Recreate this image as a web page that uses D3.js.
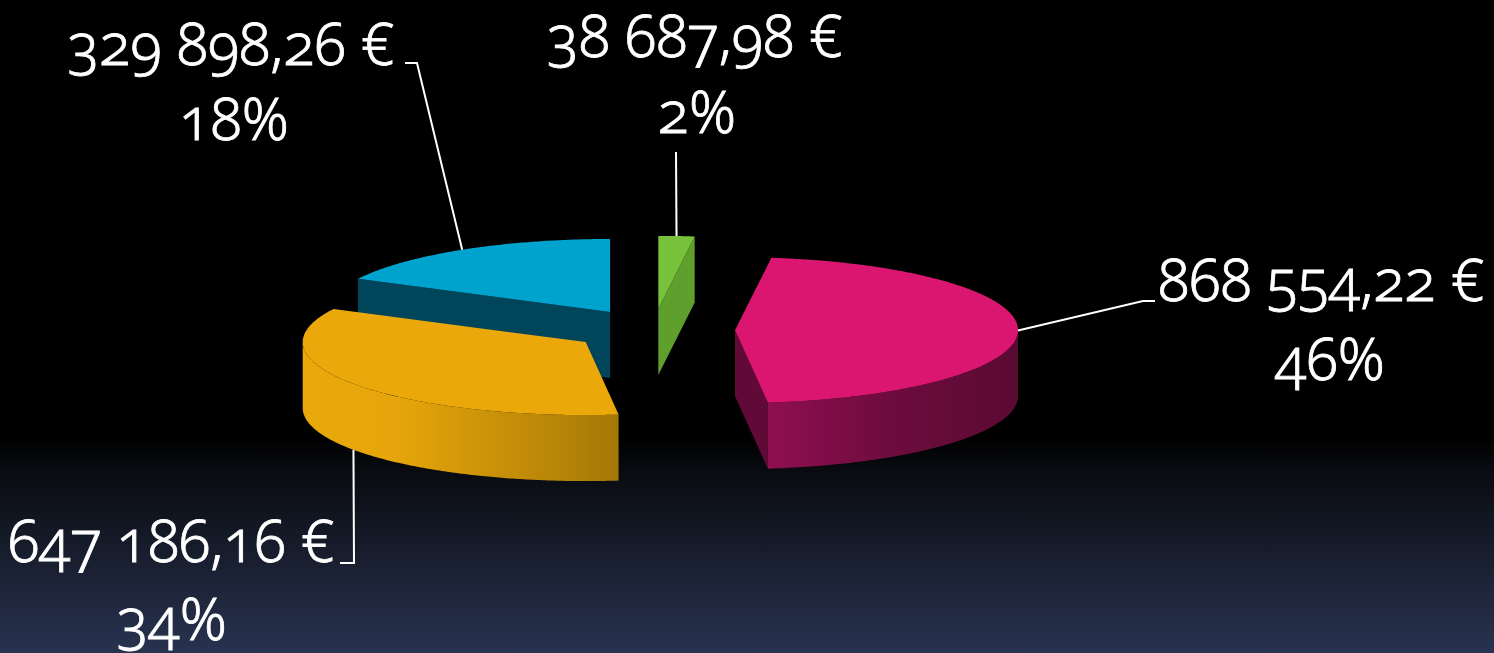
<!DOCTYPE html>
<html>
<head>
<meta charset="utf-8">
<script src="https://cdn.jsdelivr.net/npm/d3@7"></script>
<style>
    html, body { margin: 0; padding: 0; background: #000; }
    svg { display: block; }
    .lbl { font-family: 'Noto Sans', 'Open Sans', sans-serif; font-weight: 300; font-variant-numeric: oldstyle-nums; fill: #fff; stroke: #fff; stroke-width: 0.8px; }
</style>
</head>
<body>
<div id="chart_parent"></div>
<script>
// slice order is clockwise from 12 o'clock
const sliceKeys = ['green', 'pink', 'orange', 'blue'];
const sliceValues = [38687.98, 868554.22, 647186.16, 329898.26];

const chartConfig = {
    outerWidth: 1494,
    outerHeight: 653,
    cx: 653,
    cy: 330,
    rx: 283,
    ry: 73,
    depth: 66,
    explode: 82,
    fontSize: 58,
};

// colours: top face, radial wall, outer wall gradient stops
const sliceStyles = {
    green: { top: '#77c23a', wall: '#5f9f2e', side: [[0, '#5f9f2e'], [1, '#4c8224']] },
    pink: { top: '#da1670', wall: '#610a38', side: [[0, '#8f0f50'], [0.5, '#6c0c3d'], [1, '#5a0a32']] },
    orange: { top: '#eaa80b', wall: '#b78506', side: [[0, '#e9a90b'], [0.3, '#e6a50a'], [1, '#a57806']] },
    blue: { top: '#00a2ce', wall: '#00455a', side: [[0, '#00455a'], [1, '#003a4c']] },
};

// leader lines and label spots (layout only)
const labelLayout = {
    green: { bottom: false, path: [[676, 152]], text: [[695, 57], [697, 133]] },
    pink: { bottom: false, path: [[1143, 301], [1155, 301]], text: [[1321, 301], [1330, 380]] },
    orange: { bottom: true, path: [[354, 563], [340, 563]], text: [[171, 562], [172, 640]] },
    blue: { bottom: false, path: [[417, 63], [405, 63]], text: [[231, 65], [234, 140]] },
};

const frLocale = d3.formatLocale({ decimal: ',', thousands: '\u00a0', grouping: [3], currency: ['', '\u00a0€'] });
const fmtMoney = frLocale.format('$,.2f');

function initialiseChartElements(rootSelector, config) {
    const svg = d3.select(rootSelector).append('svg')
        .attr('width', config.outerWidth)
        .attr('height', config.outerHeight);

    const defs = svg.append('defs');
    const bg = defs.append('linearGradient')
        .attr('id', 'bg-grad')
        .attr('x1', 0).attr('y1', 0).attr('x2', 0).attr('y2', 1);
    bg.append('stop').attr('offset', 0).attr('stop-color', '#000');
    bg.append('stop').attr('offset', 0.67).attr('stop-color', '#000');
    bg.append('stop').attr('offset', 0.72).attr('stop-color', '#090b10');
    bg.append('stop').attr('offset', 1).attr('stop-color', '#283350');

    svg.append('rect')
        .attr('width', config.outerWidth)
        .attr('height', config.outerHeight)
        .attr('fill', 'url(#bg-grad)');

    return {
        svg,
        defs,
        pieGroup: svg.append('g').attr('class', 'pie-group'),
        labelGroup: svg.append('g').attr('class', 'label-group'),
    };
}

function updateChart(config, elements) {
    const { defs, pieGroup, labelGroup } = elements;
    const total = d3.sum(sliceValues);

    const arcs = d3.pie().sort(null).value(d => d)(sliceValues)
        .map((a, i) => {
            const mid = (a.startAngle + a.endAngle) / 2;
            return {
                ...a,
                key: sliceKeys[i],
                mid,
                cx: config.cx + config.explode * Math.sin(mid),
                cy: config.cy - config.explode * (config.ry / config.rx) * Math.cos(mid),
            };
        });

    const pt = (s, a, dy = 0) => [s.cx + config.rx * Math.sin(a), s.cy - config.ry * Math.cos(a) + dy];
    const rimLine = d3.line();
    const rim = (s, a0, a1, dy = 0) => {
        const n = Math.max(2, Math.ceil((a1 - a0) / 0.01));
        return d3.range(n + 1).map(k => pt(s, a0 + (a1 - a0) * k / n, dy));
    };

    // far slices first
    const drawOrder = arcs.slice().sort((a, b) => a.cy - b.cy);

    drawOrder.forEach(s => {
        const st = sliceStyles[s.key];
        const g = pieGroup.append('g').attr('class', `slice slice-${s.key}`);
        const h = config.depth;

        // radial walls facing the viewer
        [[s.startAngle, s.startAngle - Math.PI / 2], [s.endAngle, s.endAngle + Math.PI / 2]].forEach(([a, n]) => {
            if (Math.cos(n) < -1e-6) {
                const o = pt(s, a);
                g.append('path')
                    .attr('d', rimLine([[s.cx, s.cy], o, [o[0], o[1] + h], [s.cx, s.cy + h]]) + 'Z')
                    .attr('fill', st.wall);
            }
        });

        // front part of the rim
        const f0 = Math.max(s.startAngle, Math.PI / 2);
        const f1 = Math.min(s.endAngle, Math.PI * 1.5);
        if (f1 > f0) {
            const topPts = rim(s, f0, f1);
            const botPts = rim(s, f0, f1, h).reverse();
            const xs = topPts.map(p => p[0]);
            const gid = `side-${s.key}`;
            const grad = defs.append('linearGradient')
                .attr('id', gid)
                .attr('gradientUnits', 'userSpaceOnUse')
                .attr('x1', d3.min(xs)).attr('x2', d3.max(xs))
                .attr('y1', 0).attr('y2', 0);
            st.side.forEach(([o, c]) => grad.append('stop').attr('offset', o).attr('stop-color', c));
            g.append('path')
                .attr('d', rimLine(topPts.concat(botPts)) + 'Z')
                .attr('fill', `url(#${gid})`);
        }

        // top face
        g.append('path')
            .attr('d', rimLine([[s.cx, s.cy]].concat(rim(s, s.startAngle, s.endAngle))) + 'Z')
            .attr('fill', st.top);
    });

    // leader lines + labels
    arcs.forEach(s => {
        const lay = labelLayout[s.key];
        const anchor = pt(s, s.mid, lay.bottom ? config.depth : 0);
        labelGroup.append('path')
            .attr('d', rimLine([anchor].concat(lay.path)))
            .attr('fill', 'none')
            .attr('stroke', '#fff')
            .attr('stroke-width', 2);

        const lines = [fmtMoney(s.value), `${Math.round(s.value / total * 100)}%`];
        lines.forEach((t, i) => {
            labelGroup.append('text')
                .attr('class', 'lbl')
                .attr('x', lay.text[i][0])
                .attr('y', lay.text[i][1])
                .attr('text-anchor', 'middle')
                .attr('font-size', config.fontSize)
                .text(t);
        });
    });
}

const chartElements = initialiseChartElements('#chart_parent', chartConfig);
updateChart(chartConfig, chartElements);
</script>
</body>
</html>
